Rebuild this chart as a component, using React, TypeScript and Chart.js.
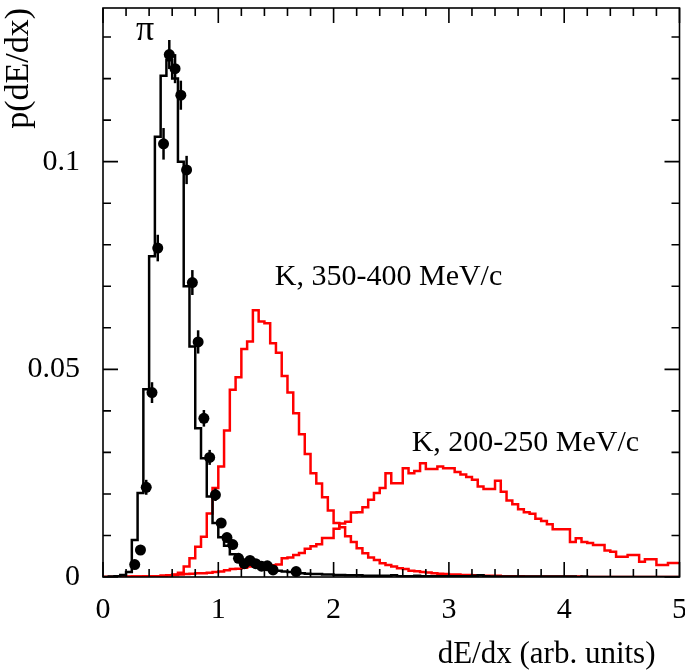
import { useEffect, useRef } from "react";
import { Chart, registerables } from "chart.js";

Chart.register(...registerables);

// ---------- data ----------
const BIN_WIDTH = 0.05; // 100 bins from 0 to 5

const piHist = [
  0, 0, 0.0001, 0.0002, 0.0005, 0.0012, 0.0089, 0.0202, 0.0452, 0.0772,
  0.106, 0.1207, 0.1244, 0.12, 0.1, 0.07, 0.0555, 0.0358, 0.0286, 0.0194,
  0.013, 0.0096, 0.0075, 0.0055, 0.0042, 0.0036, 0.0031, 0.0027, 0.0024, 0.002,
  0.0017, 0.0015, 0.0013, 0.0012, 0.001, 0.0009, 0.0008, 0.0007, 0.0007, 0.0006,
  0.0006, 0.0005, 0.0005, 0.0004, 0.0004, 0.0004, 0.0003, 0.0003, 0.0003, 0.0003,
  0.0003, 0.0004, 0.0002, 0.0002, 0.0002, 0.0003, 0.0002, 0.0002, 0.0002, 0.0002,
  0.0002, 0.0002, 0.0002, 0.0002, 0.0002, 0.0003, 0.0004, 0.0002, 0.0001, 0.0001,
  0.0001, 0.0001, 0.0001, 0.0001, 0.0001, 0.0001, 0.0001, 0.0001, 0.0001, 0.0001,
  0.0001, 0.0001, 0.0001, 0, 0.0001, 0, 0, 0, 0, 0,
  0, 0, 0, 0, 0, 0, 0, 0, 0, 0,
];

const k350Hist = [
  0, 0, 0, 0, 0.0001, 0.0001, 0.0001, 0.0001, 0.0002, 0.0002,
  0.0002, 0.0003, 0.0004, 0.0006, 0.001, 0.0025, 0.0045, 0.0073, 0.0097, 0.0153,
  0.0214, 0.0266, 0.0353, 0.0451, 0.0481, 0.0549, 0.0567, 0.0642, 0.0615, 0.0611,
  0.0563, 0.054, 0.0484, 0.0444, 0.0394, 0.0344, 0.0296, 0.025, 0.0225, 0.0192,
  0.016, 0.013, 0.012, 0.0098, 0.0084, 0.0069, 0.0057, 0.0047, 0.0041, 0.0033,
  0.0029, 0.0025, 0.0021, 0.0019, 0.0015, 0.0014, 0.0012, 0.0011, 0.0009, 0.0008,
  0.0007, 0.0006, 0.0006, 0.0005, 0.0005, 0.0004, 0.0004, 0.0003, 0.0003, 0.0003,
  0.0002, 0.0002, 0.0002, 0.0002, 0.0001, 0.0001, 0.0001, 0.0001, 0.0001, 0.0001,
  0.0001, 0.0001, 0.0001, 0.0001, 0, 0, 0, 0, 0, 0,
  0, 0, 0, 0, 0, 0, 0, 0, 0, 0,
];

const k200Hist = [
  0, 0, 0, 0, 0, 0, 0.0001, 0.0001, 0.0001, 0.0002,
  0.0002, 0.0003, 0.0004, 0.0005, 0.0006, 0.0007, 0.0008, 0.0009, 0.0009, 0.001,
  0.0012, 0.0013, 0.0016, 0.0019, 0.002, 0.0022, 0.0025, 0.0028, 0.003, 0.0028,
  0.0028, 0.003, 0.0045, 0.0047, 0.0053, 0.0058, 0.0068, 0.0074, 0.0079, 0.0094,
  0.0094, 0.0116, 0.0129, 0.0133, 0.0155, 0.0156, 0.0168, 0.0186, 0.0202, 0.0214,
  0.025, 0.0226, 0.0226, 0.0262, 0.025, 0.0255, 0.0274, 0.026, 0.026, 0.0266,
  0.0262, 0.0262, 0.0253, 0.0247, 0.0241, 0.0234, 0.0218, 0.0212, 0.0212, 0.0232,
  0.0205, 0.0184, 0.0175, 0.0163, 0.0156, 0.0152, 0.014, 0.0135, 0.0127, 0.0115,
  0.0115, 0.0115, 0.0084, 0.0093, 0.0084, 0.0082, 0.0077, 0.0077, 0.0064, 0.0061,
  0.0049, 0.0049, 0.0053, 0.0053, 0.0037, 0.0043, 0.0043, 0.0029, 0.0029, 0.0034,
];

const piPointX = [
  0.275, 0.325, 0.375, 0.425, 0.475, 0.525, 0.575, 0.625, 0.675, 0.725,
  0.775, 0.825, 0.875, 0.925, 0.975, 1.025, 1.075, 1.125, 1.175, 1.225,
  1.275, 1.325, 1.375, 1.425, 1.475, 1.675,
];
const piPointY = [
  0.003, 0.0065, 0.0216, 0.0444, 0.0792, 0.1043, 0.1258, 0.1224, 0.116, 0.098,
  0.0709, 0.0566, 0.0382, 0.0288, 0.0198, 0.013, 0.0095, 0.0078, 0.0045, 0.0032,
  0.004, 0.0032, 0.0026, 0.0027, 0.0017, 0.0013,
];
const piPointErr = [
  0.0008, 0.0012, 0.0018, 0.0025, 0.0032, 0.0038, 0.0035, 0.0035, 0.0035, 0.0034,
  0.003, 0.0028, 0.002, 0.0018, 0.0015, 0.0012, 0.001, 0.0009, 0.0007, 0.0006,
  0.0006, 0.0006, 0.0005, 0.0005, 0.0004, 0.0004,
];

const X_MIN = 0;
const X_MAX = 5;
const Y_MIN = 0;
const Y_MAX = 0.137;

const xTickValues = Array.from({ length: 26 }, (_, i) => Math.round(i * 2) / 10); // every 0.2
const xMajorTicks = [0, 1, 2, 3, 4, 5];
const xTickLabels = ["0", "1", "2", "3", "4", "5"];
const yTickValues = Array.from({ length: 14 }, (_, i) => i / 100); // every 0.01
const yMajorTicks = [0, 0.05, 0.1];
const yTickLabels = ["0", "0.05", "0.1"];

const xTitle = "dE/dx (arb. units)";
const yTitle = "p(dE/dx)";
const labelPi = "π";
const labelK350 = "K, 350-400 MeV/c";
const labelK200 = "K, 200-250 MeV/c";

// ---------- styling / layout ----------
const FONT_FAMILY = '"Liberation Serif", "Times New Roman", serif';
const RED = "#ff0000";
const BLACK = "#000000";

const annotationSpots = [
  { text: labelPi, x: 0.365, y: 0.1315, align: "center" as CanvasTextAlign, size: 36 },
  { text: labelK350, x: 1.49, y: 0.0723, align: "left" as CanvasTextAlign, size: 30 },
  { text: labelK200, x: 2.677, y: 0.0323, align: "left" as CanvasTextAlign, size: 30 },
];

function toSteps(vals: number[]) {
  const pts = vals.map((v, i) => ({ x: i * BIN_WIDTH, y: v }));
  pts.push({ x: vals.length * BIN_WIDTH, y: vals[vals.length - 1] });
  return pts;
}

const isMember = (v: number, list: number[]) => list.some((m) => Math.abs(m - v) < 1e-9);

const overlayPlugin = {
  id: "physOverlay",
  afterDatasetsDraw(chart: any) {
    const { ctx, chartArea: a, scales } = chart;
    const xs = scales.x;
    const ys = scales.y;
    ctx.save();

    // error bars
    ctx.strokeStyle = BLACK;
    ctx.lineWidth = 2.5;
    piPointX.forEach((xv, i) => {
      const px = xs.getPixelForValue(xv);
      ctx.beginPath();
      ctx.moveTo(px, ys.getPixelForValue(piPointY[i] - piPointErr[i]));
      ctx.lineTo(px, ys.getPixelForValue(piPointY[i] + piPointErr[i]));
      ctx.stroke();
    });

    // frame
    ctx.lineWidth = 1.6;
    ctx.strokeRect(a.left, a.top, a.right - a.left, a.bottom - a.top);

    // ticks (inward on all four sides)
    const MAJ = 15;
    const MIN = 8;
    ctx.lineWidth = 1.6;
    ctx.beginPath();
    xTickValues.forEach((v) => {
      const px = xs.getPixelForValue(v);
      const len = isMember(v, xMajorTicks) ? MAJ : MIN;
      ctx.moveTo(px, a.bottom);
      ctx.lineTo(px, a.bottom - len);
      ctx.moveTo(px, a.top);
      ctx.lineTo(px, a.top + len);
    });
    yTickValues.forEach((v) => {
      const py = ys.getPixelForValue(v);
      const len = isMember(v, yMajorTicks) ? MAJ : MIN;
      ctx.moveTo(a.left, py);
      ctx.lineTo(a.left + len, py);
      ctx.moveTo(a.right, py);
      ctx.lineTo(a.right - len, py);
    });
    ctx.stroke();

    // tick labels
    ctx.fillStyle = BLACK;
    ctx.font = `30px ${FONT_FAMILY}`;
    ctx.textAlign = "center";
    ctx.textBaseline = "middle";
    xMajorTicks.forEach((v, i) => {
      ctx.fillText(xTickLabels[i], xs.getPixelForValue(v), a.bottom + 33);
    });
    ctx.textAlign = "right";
    yMajorTicks.forEach((v, i) => {
      ctx.fillText(yTickLabels[i], a.left - 23, ys.getPixelForValue(v));
    });

    // axis titles
    ctx.font = `31px ${FONT_FAMILY}`;
    ctx.textAlign = "right";
    ctx.fillText(xTitle, a.right - 24, a.bottom + 78);
    ctx.save();
    ctx.font = `34px ${FONT_FAMILY}`;
    ctx.translate(19, a.top);
    ctx.rotate(-Math.PI / 2);
    ctx.textAlign = "right";
    ctx.textBaseline = "middle";
    ctx.fillText(yTitle, 0, 0);
    ctx.restore();

    // annotations
    ctx.textBaseline = "middle";
    annotationSpots.forEach((s) => {
      ctx.font = `${s.size}px ${FONT_FAMILY}`;
      ctx.textAlign = s.align;
      ctx.fillText(s.text, xs.getPixelForValue(s.x), ys.getPixelForValue(s.y));
    });

    ctx.restore();
  },
};

export default function App() {
  const canvasRef = useRef<HTMLCanvasElement | null>(null);

  useEffect(() => {
    if (!canvasRef.current) return;
    const chart = new Chart(canvasRef.current, {
      type: "line",
      data: {
        datasets: [
          {
            type: "scatter",
            label: "π data",
            data: piPointX.map((x, i) => ({ x, y: piPointY[i] })),
            pointRadius: 5.5,
            pointBackgroundColor: BLACK,
            pointBorderColor: BLACK,
            pointBorderWidth: 0,
            showLine: false,
          } as any,
          {
            label: "π",
            data: toSteps(piHist),
            stepped: "after",
            borderColor: BLACK,
            borderWidth: 2.5,
            pointRadius: 0,
            fill: false,
          },
          {
            label: "K, 350-400 MeV/c",
            data: toSteps(k350Hist),
            stepped: "after",
            borderColor: RED,
            borderWidth: 2.5,
            pointRadius: 0,
            fill: false,
          },
          {
            label: "K, 200-250 MeV/c",
            data: toSteps(k200Hist),
            stepped: "after",
            borderColor: RED,
            borderWidth: 2.5,
            pointRadius: 0,
            fill: false,
          },
        ],
      },
      options: {
        animation: false,
        responsive: false,
        devicePixelRatio: 1,
        layout: { padding: { left: 103, right: 5, top: 8, bottom: 95 } },
        plugins: { legend: { display: false }, tooltip: { enabled: false } },
        scales: {
          x: { type: "linear", min: X_MIN, max: X_MAX, display: false },
          y: { type: "linear", min: Y_MIN, max: Y_MAX, display: false },
        },
      },
      plugins: [overlayPlugin],
    });
    return () => chart.destroy();
  }, []);

  return (
    <div style={{ position: "absolute", left: 0, top: 0, width: 685, height: 672, background: "#fff" }}>
      <canvas ref={canvasRef} width={685} height={672} style={{ display: "block" }} />
    </div>
  );
}
